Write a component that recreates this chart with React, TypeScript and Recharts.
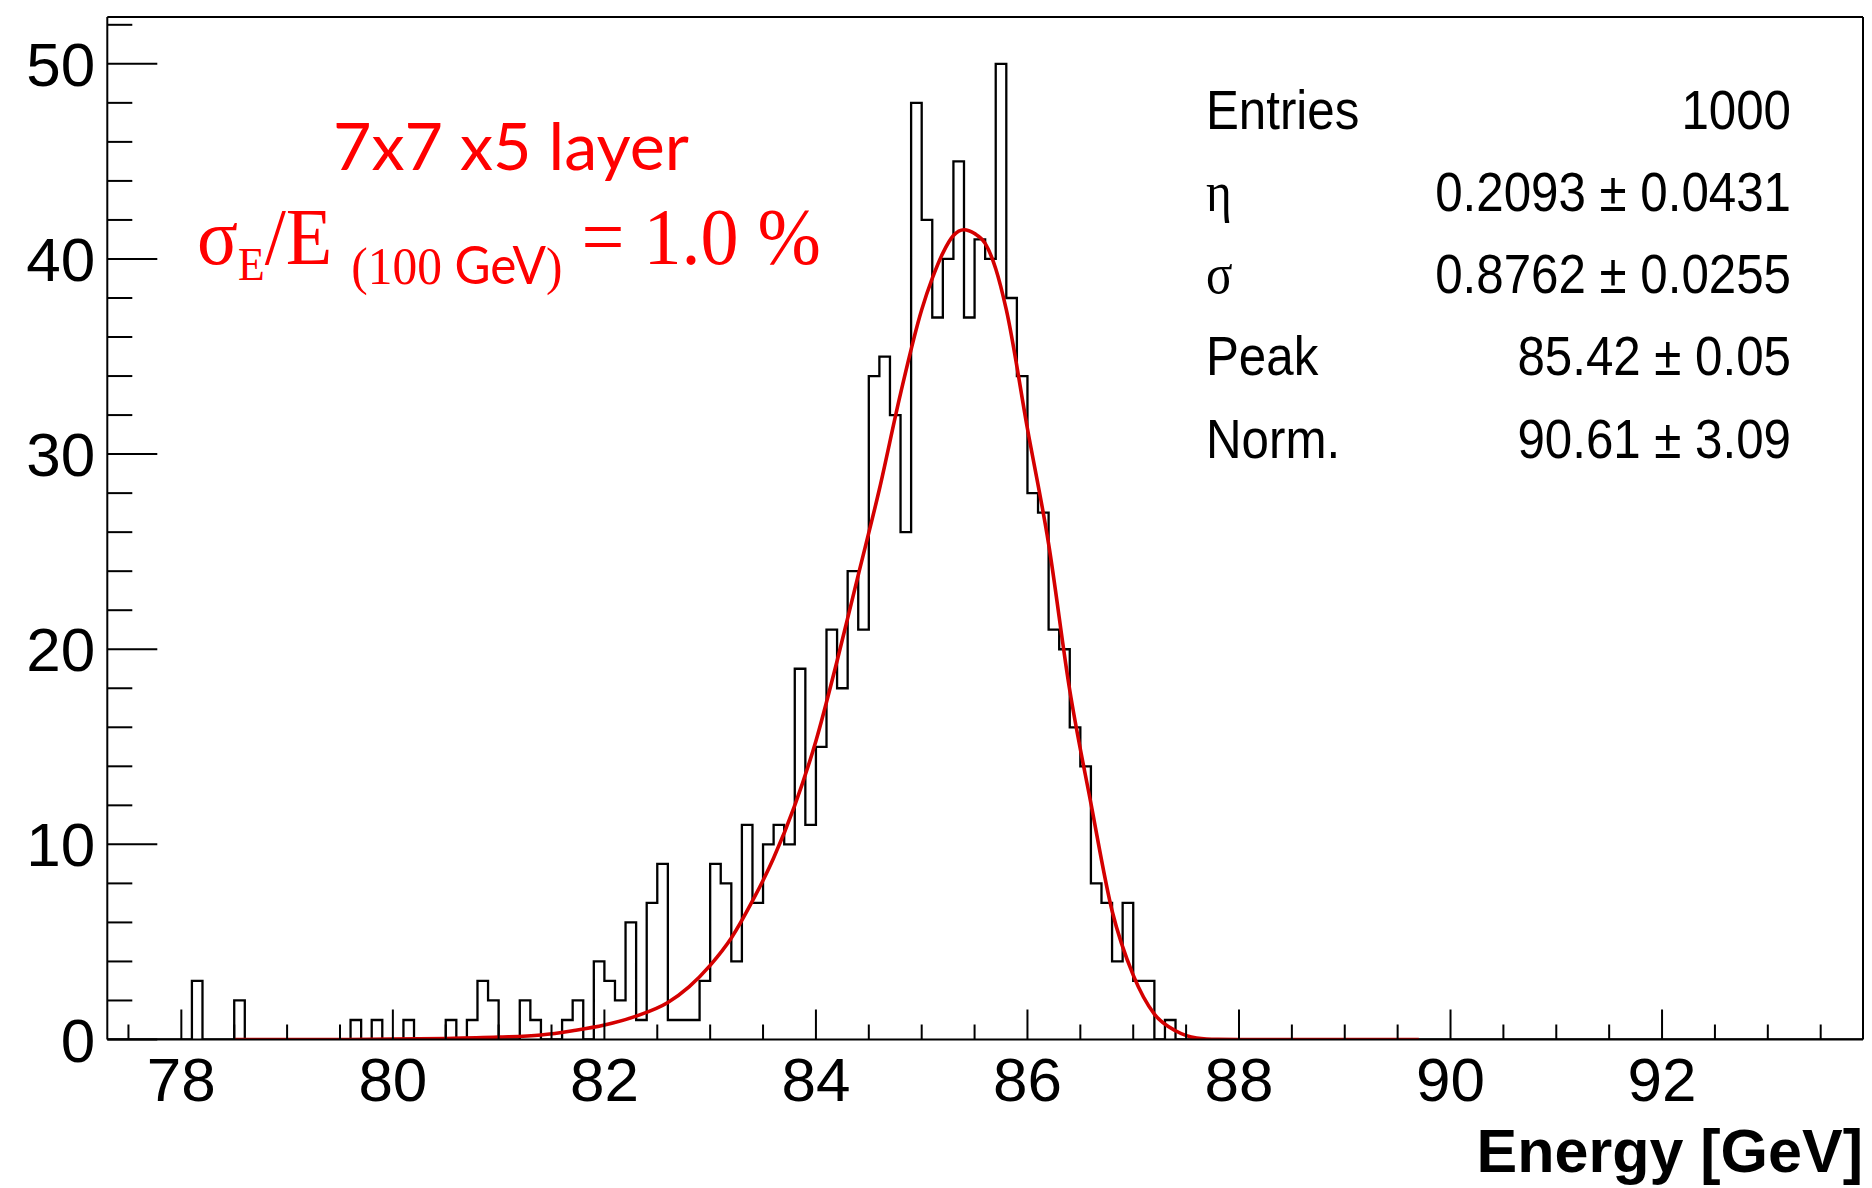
import { ComposedChart, Line, ReferenceLine, XAxis, YAxis } from "recharts";

// histogram binning (GeV)
const X_MIN = 77.3;
const X_MAX = 93.9;
const BIN_WIDTH = 0.1;
const Y_MAX = 52.4;

// non-empty bins: low edge and entries
const binStarts = [
  78.1, 78.5, 79.6, 79.8, 80.1, 80.5, 80.7, 80.8, 80.9, 81.2, 81.3, 81.6, 81.7, 81.9, 82.0,
  82.1, 82.2, 82.3, 82.4, 82.5, 82.6, 82.7, 82.8, 82.9, 83.0, 83.1, 83.2, 83.3, 83.4, 83.5,
  83.6, 83.7, 83.8, 83.9, 84.0, 84.1, 84.2, 84.3, 84.4, 84.5, 84.6, 84.7, 84.8, 84.9, 85.0,
  85.1, 85.2, 85.3, 85.4, 85.5, 85.6, 85.7, 85.8, 85.9, 86.0, 86.1, 86.2, 86.3, 86.4, 86.5,
  86.6, 86.7, 86.8, 86.9, 87.0, 87.1, 87.3,
];
const binCounts = [
  3, 2, 1, 1, 1, 1, 1, 3, 2, 2, 1, 1, 2, 4, 3,
  2, 6, 1, 7, 9, 1, 1, 1, 3, 9, 8, 4, 11, 7, 10,
  11, 10, 19, 11, 15, 21, 18, 24, 21, 34, 35, 32, 26, 48, 42,
  37, 40, 45, 37, 41, 40, 50, 38, 34, 28, 27, 21, 20, 16, 14,
  8, 7, 4, 7, 3, 3, 1,
];

// fitted curve
const fitEnergy = [
  78.5, 79.5, 80.0, 80.5, 81.0, 81.4, 81.7, 82.0, 82.3, 82.6, 82.8, 83.0, 83.2, 83.4, 83.6,
  83.8, 84.0, 84.2, 84.4, 84.6, 84.8, 85.0, 85.1, 85.2, 85.3, 85.4, 85.5, 85.6, 85.7, 85.8,
  86.0, 86.2, 86.4, 86.6, 86.8, 87.0, 87.2, 87.4, 87.6, 87.8, 88.0, 89.7,
];
const fitCounts = [
  0, 0, 0.02, 0.05, 0.12, 0.23, 0.45, 0.74, 1.2, 1.9, 2.7, 3.8, 5.2, 7.1, 9.3,
  12.0, 15.3, 19.4, 23.8, 28.2, 33.1, 37.4, 39.0, 40.3, 41.2, 41.5, 41.3, 40.8, 39.5, 37.4,
  31.3, 25.4, 17.9, 12.1, 6.6, 3.3, 1.3, 0.45, 0.08, 0.01, 0, 0,
];

const xMajorTicks = [78, 80, 82, 84, 86, 88, 90, 92];
const yMajorTicks = [0, 10, 20, 30, 40, 50];

const statsLabels = ["Entries", "η", "σ", "Peak", "Norm."];
const statsValues = ["1000", "0.2093 ± 0.0431", "0.8762 ± 0.0255", "85.42 ± 0.05", "90.61 ± 3.09"];

const round1 = (v: number) => Math.round(v * 10) / 10;

const nBins = Math.round((X_MAX - X_MIN) / BIN_WIDTH);
const entries: number[] = new Array(nBins).fill(0);
binStarts.forEach((s, i) => {
  entries[Math.round((s - X_MIN) / BIN_WIDTH)] = binCounts[i];
});
const histData = entries.map((c, i) => ({ x: round1(X_MIN + i * BIN_WIDTH), h: c }));
histData.push({ x: X_MAX, h: 0 });

const fitData = fitEnergy.map((x, i) => ({ x, f: fitCounts[i] }));

const xTicks: number[] = [];
for (let v = 77.5; v < X_MAX; v += 0.5) xTicks.push(v);
const yTicks: number[] = [];
for (let v = 0; v <= 52; v += 2) yTicks.push(v);

const FONT = "'Liberation Sans', Arial, Helvetica, sans-serif";
const SERIF = "'Liberation Serif', 'Times New Roman', serif";

function XTick(props: any) {
  const { x, y, payload } = props;
  const major = xMajorTicks.includes(payload.value);
  return (
    <g>
      <line x1={x} x2={x} y1={y} y2={y - (major ? 30 : 15)} stroke="#000" strokeWidth={2} />
      {major ? (
        <text x={x} y={y + 61} textAnchor="middle" fontFamily={FONT} fontSize={62} fill="#000">
          {payload.value}
        </text>
      ) : null}
    </g>
  );
}

function YTick(props: any) {
  const { x, y, payload } = props;
  const major = yMajorTicks.includes(payload.value);
  return (
    <g>
      <line x1={x} x2={x + (major ? 50 : 25)} y1={y} y2={y} stroke="#000" strokeWidth={2} />
      {major ? (
        <text x={x - 12} y={y + 22} textAnchor="end" fontFamily={FONT} fontSize={62} fill="#000">
          {payload.value}
        </text>
      ) : null}
    </g>
  );
}

export default function App() {
  return (
    <div style={{ position: "absolute", left: 0, top: 0, width: 1872, height: 1188, background: "#fff" }}>
      <ComposedChart width={1872} height={1188} margin={{ top: 17, right: 9, bottom: 0, left: 0 }}>
        <XAxis
          dataKey="x"
          type="number"
          domain={[X_MIN, X_MAX]}
          allowDataOverflow
          ticks={xTicks}
          interval={0}
          tick={<XTick />}
          tickSize={0}
          tickMargin={0}
          height={148.5}
          axisLine={{ stroke: "#000", strokeWidth: 2 }}
        />
        <YAxis
          type="number"
          domain={[0, Y_MAX]}
          allowDataOverflow
          ticks={yTicks}
          interval={0}
          tick={<YTick />}
          tickSize={0}
          tickMargin={0}
          width={107.3}
          axisLine={{ stroke: "#000", strokeWidth: 2 }}
        />
        <ReferenceLine y={Y_MAX} stroke="#000" strokeWidth={2} />
        <ReferenceLine x={X_MAX} stroke="#000" strokeWidth={2} />
        <Line
          data={histData}
          dataKey="h"
          type="stepAfter"
          stroke="#000"
          strokeWidth={2.3}
          dot={false}
          isAnimationActive={false}
        />
        <Line
          data={fitData}
          dataKey="f"
          type="monotone"
          stroke="#d40000"
          strokeWidth={3.6}
          dot={false}
          isAnimationActive={false}
        />
        <text x={511} y={170} textAnchor="middle" fontFamily="Lato, 'Open Sans', sans-serif" fontSize={65} fill="#ff0000" textLength={356} lengthAdjust="spacingAndGlyphs">
          7x7 x5 layer
        </text>
        <text x={197} y={264} fontFamily={SERIF} fontSize={80} fill="#ff0000" textLength={624} lengthAdjust="spacingAndGlyphs">
          <tspan>σ</tspan>
          <tspan fontSize={46} dy={16}>E</tspan>
          <tspan dy={-16}>/E </tspan>
          <tspan fontSize={52} dy={20}>(100 </tspan>
          <tspan fontSize={52} fontFamily="Lato, sans-serif">GeV</tspan>
          <tspan fontSize={52}>)</tspan>
          <tspan dy={-20}> = 1.0 %</tspan>
        </text>
        {statsLabels.map((label, i) => (
          <g key={label} transform={`translate(1206, ${128.5 + i * 82.3}) scale(0.88, 1)`}>
            <text x={0} y={0} fontFamily={i === 1 || i === 2 ? SERIF : FONT} fontSize={56} fill="#000">
              {label}
            </text>
          </g>
        ))}
        {statsValues.map((value, i) => (
          <g key={value} transform={`translate(1791, ${128.5 + i * 82.3}) scale(0.88, 1)`}>
            <text x={0} y={0} textAnchor="end" fontFamily={FONT} fontSize={56} fill="#000">
              {value}
            </text>
          </g>
        ))}
        <text x={1863} y={1172} textAnchor="end" fontFamily={FONT} fontWeight="bold" fontSize={61} fill="#000">
          Energy [GeV]
        </text>
      </ComposedChart>
    </div>
  );
}
